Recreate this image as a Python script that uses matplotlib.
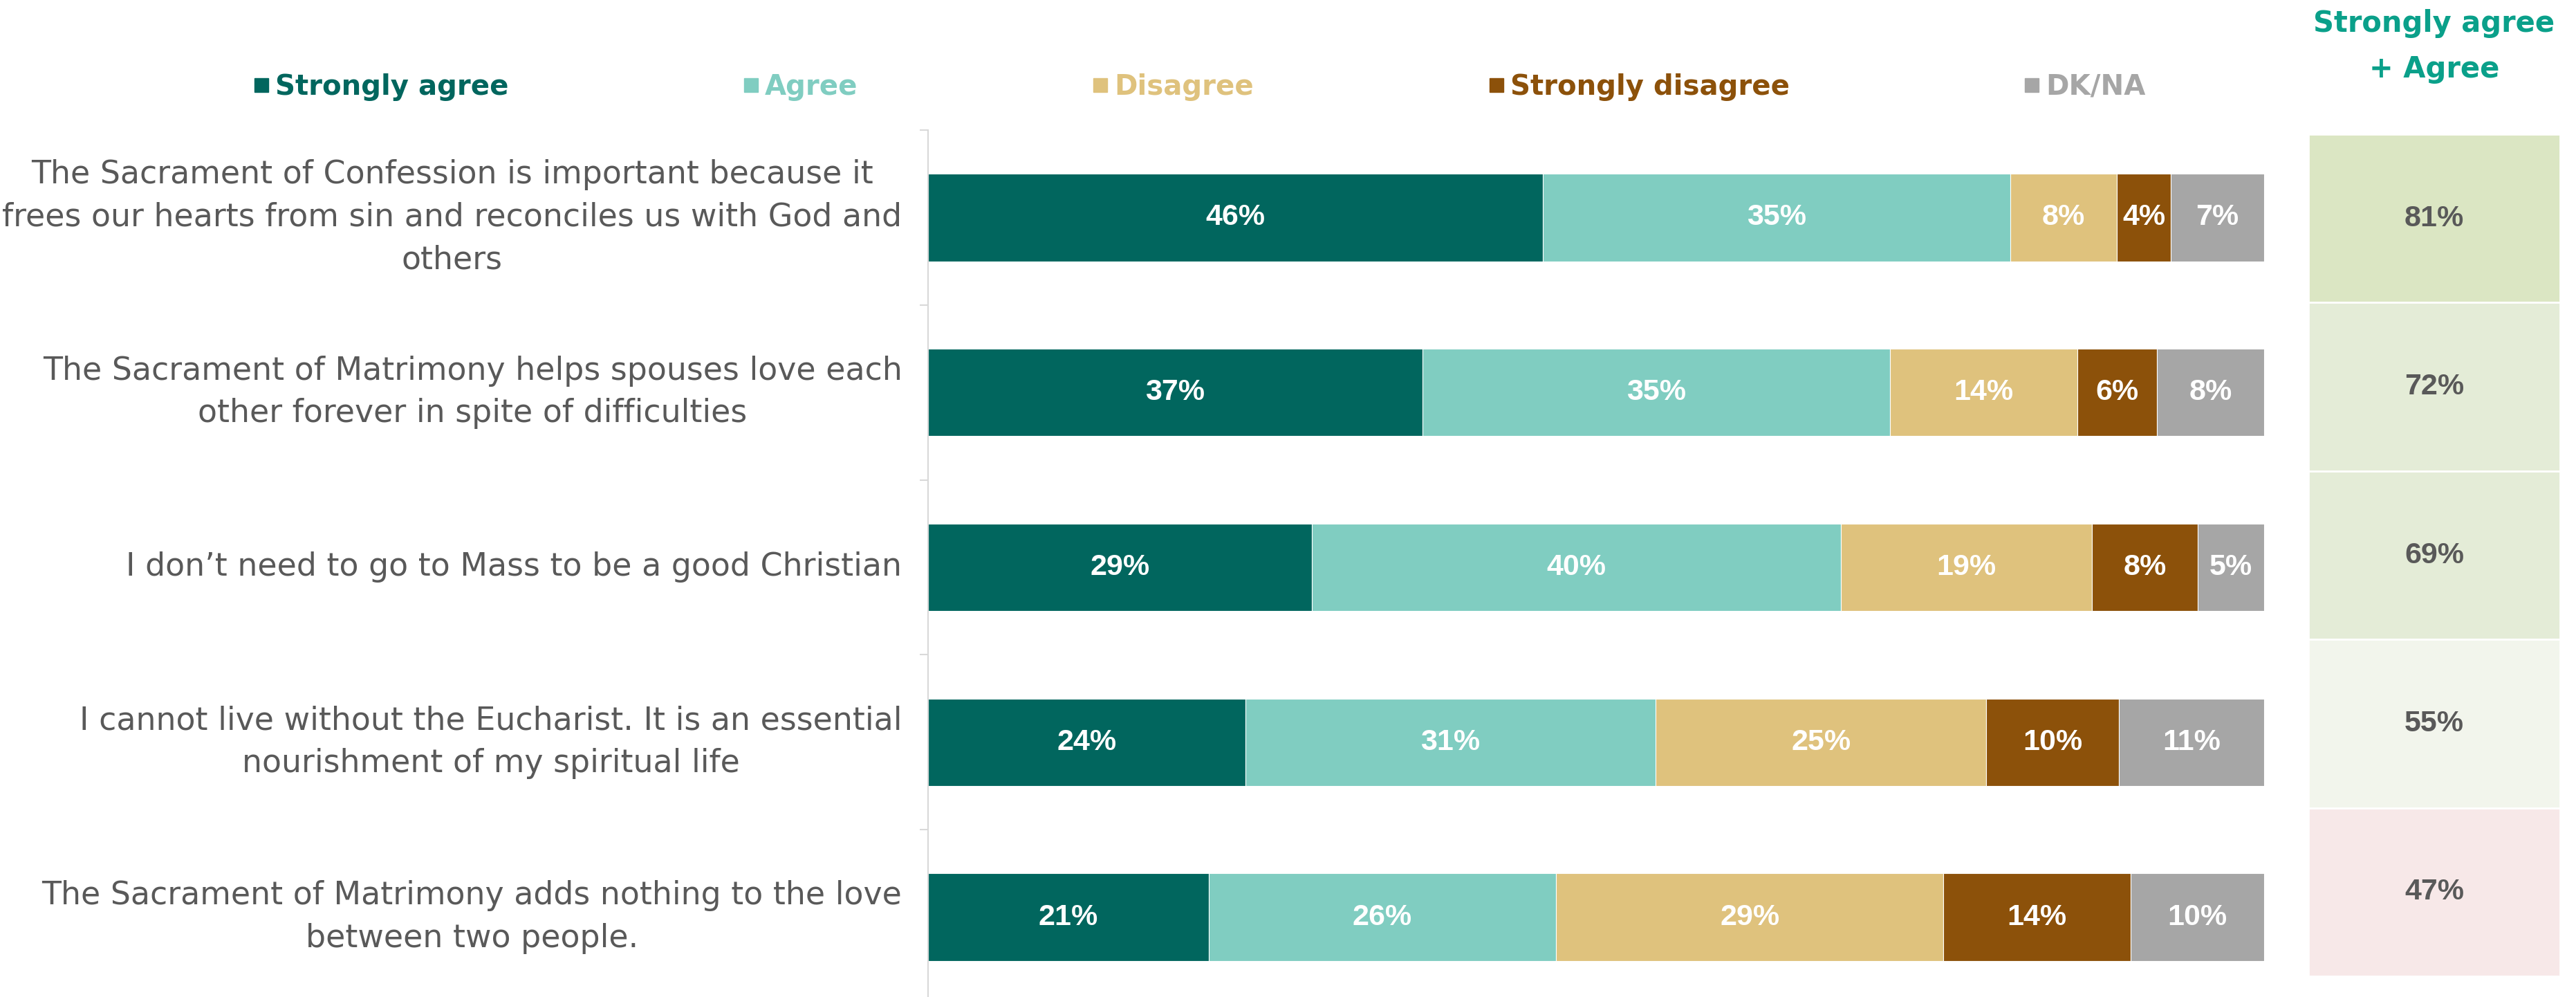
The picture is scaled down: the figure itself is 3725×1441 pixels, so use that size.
import numpy as np
import matplotlib
matplotlib.use('Agg')
import matplotlib.pyplot as plt
from matplotlib.lines import Line2D

# data
statements = [
    'The Sacrament of Confession is important because it\nfrees our hearts from sin and reconciles us with God and\nothers',
    'The Sacrament of Matrimony helps spouses love each\nother forever in spite of difficulties',
    'I don\u2019t need to go to Mass to be a good Christian',
    'I cannot live without the Eucharist. It is an essential\nnourishment of my spiritual life',
    'The Sacrament of Matrimony adds nothing to the love\nbetween two people.',
]
answers = ['Strongly agree', 'Agree', 'Disagree', 'Strongly disagree', 'DK/NA']
strongly_agree = [46, 37, 29, 24, 21]
agree = [35, 35, 40, 31, 26]
disagree = [8, 14, 19, 25, 29]
strongly_disagree = [4, 6, 8, 10, 14]
dk_na = [7, 8, 5, 11, 10]
top2 = [81, 72, 69, 55, 47]

colors = ['#01665e', '#80cdc1', '#dfc27d', '#8c510a', '#a6a6a6']
box_colors = ['#dbe6c3', '#e4ecd7', '#e4ecd7', '#f2f5ec', '#f7e8e8']
GREY = '#595959'

W, H = 3725, 1441
fig = plt.figure(figsize=(W / 100, H / 100), dpi=100)

# main stacked bars
ax = fig.add_axes([1342 / W, 1 - 1452 / H, 1932 / W, 1264 / H])
series = np.array([strongly_agree, agree, disagree, strongly_disagree, dk_na], dtype=float)
totals = series.sum(axis=0)
shares = series / totals * 100  # rows are rounded, bars fill 100%
ypos = np.arange(len(statements))
left = np.zeros(len(statements))
for k in range(len(answers)):
    ax.barh(ypos, shares[k], left=left, height=0.5, color=colors[k],
            edgecolor='white', linewidth=0.8)
    for i in range(len(statements)):
        ax.text(left[i] + shares[k][i] / 2, ypos[i], '%d%%' % series[k][i],
                ha='center', va='center', color='white', fontsize=31,
                fontweight='bold', family='Liberation Sans')
    left += shares[k]

ax.set_xlim(0, 100)
ax.set_ylim(len(statements) - 0.5, -0.5)
ax.set_xticks([])
for s in ['top', 'right', 'bottom']:
    ax.spines[s].set_visible(False)
ax.spines['left'].set_color('#d9d9d9')
ax.spines['left'].set_linewidth(1.5)
ax.set_yticks(ypos, statements)
ax.set_yticks(np.arange(-0.5, len(statements), 1), minor=True)
ax.tick_params(axis='y', which='major', length=0, pad=27)
ax.tick_params(axis='y', which='minor', length=9, width=1.5, color='#d9d9d9')
for t in ax.get_yticklabels():
    t.set_family('DejaVu Sans')
    t.set_fontsize(33)
    t.set_color(GREY)
    t.set_multialignment('center')
    t.set_linespacing(1.47)
    t.set_verticalalignment('center')

# right column: strongly agree + agree
ax2 = fig.add_axes([3338 / W, 1 - 1411 / H, 364 / W, 1217 / H])
ax2.barh(ypos, [1] * len(top2), height=1, color=box_colors,
         edgecolor='white', linewidth=2)
for i, v in enumerate(top2):
    ax2.text(0.5, ypos[i], '%d%%' % v, ha='center', va='center', color=GREY,
             fontsize=31, fontweight='bold', family='Liberation Sans')
ax2.set_xlim(0, 1)
ax2.set_ylim(len(top2) - 0.5, -0.5)
ax2.axis('off')

fig.text(3520 / W, 1 - 67 / H, 'Strongly agree\n+ Agree', ha='center',
         va='center', fontsize=30, fontweight='bold', color='#0aa08a',
         family='DejaVu Sans', linespacing=1.7)

handles = [Line2D([], [], marker='s', linestyle='none', markersize=15, color=c)
           for c in colors]
fig.legend(handles, answers, loc='center left', bbox_to_anchor=(366 / W, 1 - 126 / H),
           ncol=5, frameon=False, labelcolor=colors,
           prop={'family': 'DejaVu Sans', 'weight': 'bold', 'size': 29},
           handlelength=0.6, handletextpad=0.2, columnspacing=8.4,
           borderpad=0, borderaxespad=0)

fig.savefig('out.png', dpi=100)
